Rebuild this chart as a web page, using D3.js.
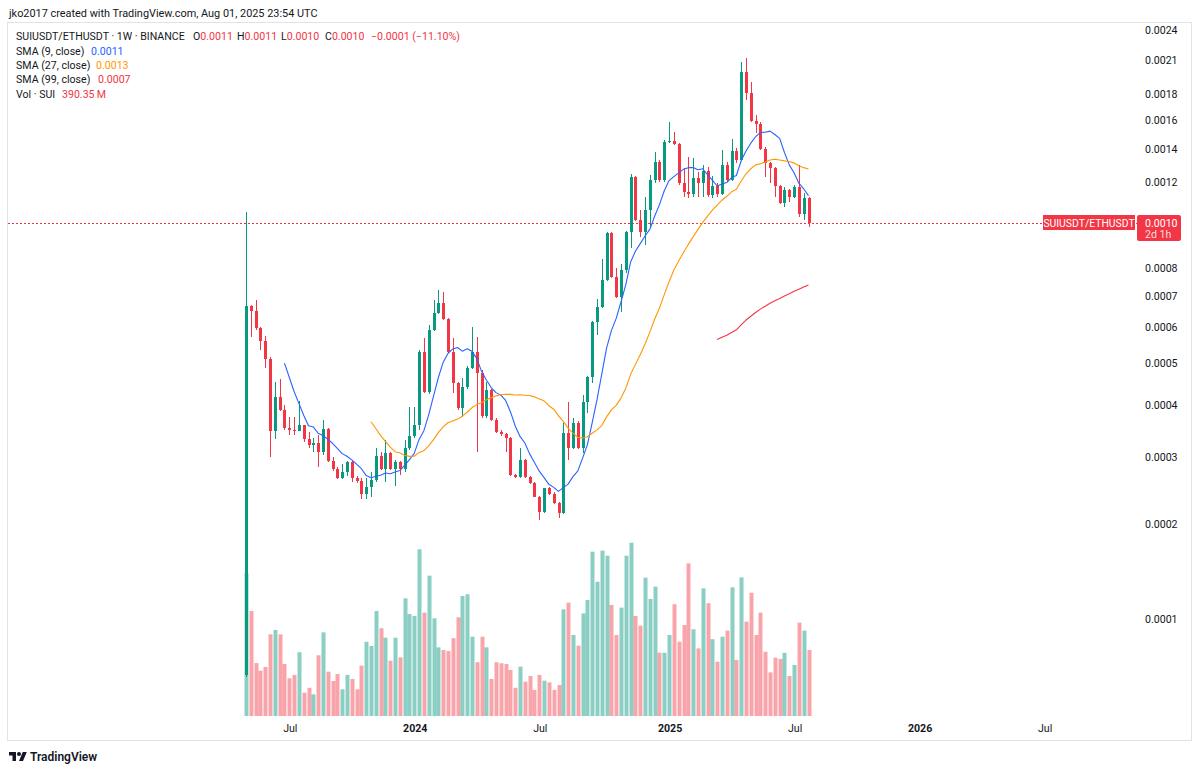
<!DOCTYPE html>
<html>
<head>
<meta charset="utf-8">
<script src="https://cdn.jsdelivr.net/npm/d3@7/dist/d3.min.js"></script>
<style>
html,body{margin:0;padding:0;background:#fff;}
svg{display:block;font-family:Roboto,"Liberation Sans",Arial,sans-serif;}
</style>
</head>
<body>
<svg id="chart" width="1200" height="770"></svg>
<script>
// ---------------- data (weekly SUIUSDT/ETHUSDT, Binance) ----------------
const firstWeek = "2023-05-01";
const opens = [0.573e-4, 6.65e-4, 6.49e-4, 5.97e-4, 5.59e-4, 5.10e-4, 3.48e-4, 4.19e-4, 3.90e-4, 3.54e-4,
3.50e-4, 3.48e-4, 3.60e-4, 3.33e-4, 3.22e-4, 3.26e-4, 3.09e-4, 3.52e-4, 2.93e-4, 2.81e-4,
2.66e-4, 2.76e-4, 2.92e-4, 2.66e-4, 2.61e-4, 2.42e-4, 2.52e-4, 2.63e-4, 3.02e-4, 2.81e-4,
3.08e-4, 2.81e-4, 2.92e-4, 2.81e-4, 3.17e-4, 3.39e-4, 3.60e-4, 5.29e-4, 4.30e-4, 5.91e-4,
6.43e-4, 6.75e-4, 6.24e-4, 5.29e-4, 4.50e-4, 3.94e-4, 4.41e-4, 4.87e-4, 5.29e-4, 4.75e-4,
3.77e-4, 4.34e-4, 3.69e-4, 3.46e-4, 3.43e-4, 3.35e-4, 2.71e-4, 2.68e-4, 2.95e-4, 2.68e-4,
2.59e-4, 2.38e-4, 2.16e-4, 2.50e-4, 2.42e-4, 2.29e-4, 2.15e-4, 3.44e-4, 3.17e-4, 3.63e-4,
3.17e-4, 4.08e-4, 4.64e-4, 6.15e-4, 6.62e-4, 7.56e-4, 9.47e-4, 7.67e-4, 6.96e-4, 7.94e-4,
9.51e-4, 12.32e-4, 10.07e-4, 9.51e-4, 10.56e-4, 12.15e-4, 13.20e-4, 12.15e-4, 14.47e-4, 14.54e-4,
14.34e-4, 11.98e-4, 11.48e-4, 11.38e-4, 12.26e-4, 11.98e-4, 12.65e-4, 11.33e-4, 11.82e-4, 11.38e-4,
13.02e-4, 12.15e-4, 13.90e-4, 13.32e-4, 19.88e-4, 18.09e-4, 15.93e-4, 15.71e-4, 14.02e-4, 13.14e-4,
12.83e-4, 11.82e-4, 10.91e-4, 11.59e-4, 11.22e-4, 11.76e-4, 10.36e-4, 11.17e-4];

const highs = [10.46e-4, 6.69e-4, 6.85e-4, 6.00e-4, 5.74e-4, 5.15e-4, 4.52e-4, 4.60e-4, 4.01e-4, 3.75e-4,
3.75e-4, 4.10e-4, 3.60e-4, 3.46e-4, 3.35e-4, 3.41e-4, 3.69e-4, 3.54e-4, 3.00e-4, 2.84e-4,
2.89e-4, 2.93e-4, 2.93e-4, 2.69e-4, 2.66e-4, 2.66e-4, 2.76e-4, 3.17e-4, 3.09e-4, 3.31e-4,
3.09e-4, 2.95e-4, 2.93e-4, 3.31e-4, 3.97e-4, 3.97e-4, 5.34e-4, 5.68e-4, 6.06e-4, 6.85e-4,
7.20e-4, 7.13e-4, 6.27e-4, 5.68e-4, 4.52e-4, 4.62e-4, 4.92e-4, 6.00e-4, 5.71e-4, 4.82e-4,
4.52e-4, 4.36e-4, 3.73e-4, 3.50e-4, 3.44e-4, 3.37e-4, 2.73e-4, 3.17e-4, 2.97e-4, 2.69e-4,
2.60e-4, 2.39e-4, 2.51e-4, 2.52e-4, 2.45e-4, 2.30e-4, 3.63e-4, 4.08e-4, 3.73e-4, 3.67e-4,
4.23e-4, 4.67e-4, 6.18e-4, 6.88e-4, 8.36e-4, 9.51e-4, 9.51e-4, 8.02e-4, 8.17e-4, 9.56e-4,
12.49e-4, 12.37e-4, 10.56e-4, 11.22e-4, 12.43e-4, 13.83e-4, 13.32e-4, 14.60e-4, 15.86e-4, 15.14e-4,
14.41e-4, 12.83e-4, 13.51e-4, 13.45e-4, 12.60e-4, 13.02e-4, 12.89e-4, 12.37e-4, 11.98e-4, 13.96e-4,
13.20e-4, 14.67e-4, 14.09e-4, 20.81e-4, 21.19e-4, 19.01e-4, 16.38e-4, 15.86e-4, 14.15e-4, 13.20e-4,
12.89e-4, 11.87e-4, 11.76e-4, 11.65e-4, 11.87e-4, 13.02e-4, 11.43e-4, 11.22e-4];

const lows = [0.56e-4, 5.71e-4, 5.91e-4, 5.34e-4, 4.87e-4, 3.00e-4, 3.33e-4, 3.88e-4, 3.50e-4, 3.41e-4,
3.41e-4, 3.48e-4, 3.27e-4, 3.17e-4, 3.09e-4, 2.84e-4, 3.04e-4, 2.92e-4, 2.77e-4, 2.65e-4,
2.65e-4, 2.69e-4, 2.60e-4, 2.59e-4, 2.35e-4, 2.35e-4, 2.38e-4, 2.60e-4, 2.79e-4, 2.60e-4,
2.79e-4, 2.54e-4, 2.71e-4, 2.76e-4, 3.13e-4, 3.35e-4, 3.50e-4, 4.27e-4, 4.25e-4, 5.88e-4,
6.40e-4, 6.21e-4, 5.26e-4, 4.27e-4, 3.90e-4, 3.75e-4, 4.36e-4, 4.85e-4, 3.09e-4, 3.73e-4,
3.73e-4, 3.67e-4, 3.44e-4, 3.39e-4, 3.09e-4, 2.69e-4, 2.66e-4, 2.66e-4, 2.66e-4, 2.57e-4,
2.37e-4, 2.06e-4, 2.15e-4, 2.41e-4, 2.27e-4, 2.09e-4, 2.14e-4, 2.95e-4, 3.15e-4, 3.15e-4,
3.08e-4, 3.84e-4, 4.50e-4, 5.76e-4, 6.59e-4, 7.52e-4, 7.64e-4, 6.92e-4, 6.46e-4, 7.83e-4,
8.82e-4, 10.02e-4, 9.29e-4, 8.95e-4, 9.69e-4, 11.98e-4, 12.04e-4, 12.04e-4, 14.41e-4, 14.30e-4,
11.87e-4, 11.22e-4, 11.17e-4, 11.22e-4, 11.22e-4, 11.22e-4, 11.22e-4, 11.17e-4, 11.22e-4, 11.33e-4,
12.04e-4, 12.09e-4, 13.14e-4, 13.26e-4, 17.52e-4, 15.86e-4, 15.08e-4, 13.96e-4, 12.32e-4, 11.98e-4,
11.22e-4, 10.86e-4, 10.71e-4, 10.96e-4, 11.17e-4, 10.22e-4, 10.07e-4, 9.74e-4];

const closes = [6.65e-4, 6.49e-4, 5.97e-4, 5.59e-4, 5.10e-4, 3.48e-4, 4.19e-4, 3.90e-4, 3.54e-4, 3.50e-4,
3.48e-4, 3.60e-4, 3.33e-4, 3.22e-4, 3.26e-4, 3.09e-4, 3.52e-4, 2.93e-4, 2.81e-4, 2.66e-4,
2.76e-4, 2.92e-4, 2.66e-4, 2.61e-4, 2.42e-4, 2.52e-4, 2.63e-4, 3.02e-4, 2.81e-4, 3.08e-4,
2.81e-4, 2.92e-4, 2.81e-4, 3.17e-4, 3.39e-4, 3.60e-4, 5.29e-4, 4.30e-4, 5.91e-4, 6.43e-4,
6.75e-4, 6.24e-4, 5.29e-4, 4.50e-4, 3.94e-4, 4.41e-4, 4.87e-4, 5.29e-4, 4.75e-4, 3.77e-4,
4.34e-4, 3.69e-4, 3.46e-4, 3.43e-4, 3.35e-4, 2.71e-4, 2.68e-4, 2.95e-4, 2.68e-4, 2.59e-4,
2.38e-4, 2.16e-4, 2.50e-4, 2.42e-4, 2.29e-4, 2.15e-4, 3.44e-4, 3.17e-4, 3.63e-4, 3.17e-4,
4.08e-4, 4.64e-4, 6.15e-4, 6.62e-4, 7.56e-4, 9.47e-4, 7.67e-4, 6.96e-4, 7.94e-4, 9.51e-4,
12.32e-4, 10.07e-4, 9.51e-4, 10.56e-4, 12.15e-4, 13.20e-4, 12.15e-4, 14.47e-4, 14.54e-4, 14.34e-4,
11.98e-4, 11.48e-4, 11.38e-4, 12.26e-4, 11.98e-4, 12.65e-4, 11.33e-4, 11.82e-4, 11.38e-4, 13.02e-4,
12.15e-4, 13.90e-4, 13.32e-4, 19.88e-4, 18.09e-4, 15.93e-4, 15.71e-4, 14.02e-4, 13.14e-4, 12.83e-4,
11.82e-4, 10.91e-4, 11.59e-4, 11.22e-4, 11.76e-4, 10.36e-4, 11.17e-4, 9.93e-4];

// volume in millions of SUI
const volumes = [846, 621, 313, 268, 290, 483, 509, 483, 308, 223,
243, 377, 138, 167, 128, 359, 495, 262, 207, 248,
158, 243, 219, 158, 298, 439, 414, 621, 519, 463,
327, 463, 347, 696, 603, 592, 986, 611, 830, 578,
406, 390, 384, 460, 584, 710, 720, 469, 318, 469,
406, 219, 318, 312, 308, 272, 167, 292, 203, 237,
154, 243, 209, 199, 154, 183, 631, 670, 479, 416,
607, 686, 972, 794, 978, 948, 657, 479, 641, 948,
1025, 592, 534, 818, 692, 765, 374, 374, 479, 661,
439, 538, 903, 513, 400, 755, 667, 454, 321, 469,
505, 761, 331, 820, 558, 729, 479, 611, 380, 258,
345, 337, 374, 237, 302, 552, 505, 390.35];

const priceTicks = [0.0024, 0.0021, 0.0018, 0.0016, 0.0014, 0.0012, 0.0008, 0.0007, 0.0006, 0.0005, 0.0004, 0.0003, 0.0002, 0.0001];
const timeTickDates = ["2023-07-03", "2024-01-01", "2024-07-01", "2025-01-06", "2025-07-07", "2026-01-05", "2026-07-06"];
const timeTickLabels = ["Jul", "2024", "Jul", "2025", "Jul", "2026", "Jul"];
const smaPeriods = [9, 27, 99];
const smaColors = ["#2962FF", "#FF9800", "#F23645"];

// ---------------- setup ----------------
const svg = d3.select("#chart");
const UP = "#089981", DOWN = "#F23645";
const VOL_UP = "rgba(8,153,129,0.47)", VOL_DOWN = "rgba(242,54,69,0.45)";
const TEXT = "#131722";
const LOG_OFFSET = 0.0001; // TradingView log-scale offset

const parse = d3.utcParse("%Y-%m-%d");
const start = parse(firstWeek);
const dates = d3.utcMonday.range(start, d3.utcDay.offset(start, 7 * closes.length)).slice(0, closes.length);

const x = d3.scaleUtc().domain([dates[0], dates[dates.length - 1]]).range([246, 808.5]);
const yLog = d3.scaleLog().domain([0.0002, 0.0025]).range([619, 30]);
const y = p => yLog(p + LOG_OFFSET);
const yVol = d3.scaleLinear().domain([0, d3.max(volumes)]).range([716, 542.7]);

const bars = dates.map((d, i) => ({d, i, o: opens[i], h: highs[i], l: lows[i], c: closes[i], v: volumes[i]}));
const isUp = b => b.c >= b.o;
const cx = b => Math.round(x(b.d));

svg.append("rect").attr("width", 1200).attr("height", 770).attr("fill", "#fff");

// attribution
svg.append("text").attr("x", 9).attr("y", 17).attr("font-size", 10.9).attr("fill", TEXT)
  .text("jko2017 created with TradingView.com, Aug 01, 2025 23:54 UTC");

// frame
svg.append("rect").attr("x", 7.5).attr("y", 22.5).attr("width", 1184).attr("height", 718)
  .attr("fill", "none").attr("stroke", "#e0e3eb").attr("stroke-width", 1);

// volume
svg.append("g").selectAll("rect").data(bars).join("rect")
  .attr("x", b => cx(b) - 1.5).attr("width", 4)
  .attr("y", b => yVol(b.v)).attr("height", b => yVol(0) - yVol(b.v))
  .attr("fill", b => isUp(b) ? VOL_UP : VOL_DOWN);

// last price dotted line
const lastBar = bars[bars.length - 1];
const yLast = Math.round(y(lastBar.c)) + 0.5;
svg.append("line").attr("x1", 8).attr("x2", 1137).attr("y1", yLast).attr("y2", yLast)
  .attr("stroke", DOWN).attr("stroke-width", 1).attr("stroke-dasharray", "2,2")
  .attr("shape-rendering", "crispEdges");

// candles
const gC = svg.append("g").attr("shape-rendering", "crispEdges");
gC.selectAll("rect.wick").data(bars).join("rect").attr("class", "wick")
  .attr("x", b => cx(b)).attr("width", 1)
  .attr("y", b => y(b.h)).attr("height", b => Math.max(1, y(b.l) - y(b.h)))
  .attr("fill", b => isUp(b) ? UP : DOWN);
gC.selectAll("rect.body").data(bars).join("rect").attr("class", "body")
  .attr("x", b => cx(b) - 1).attr("width", 3)
  .attr("y", b => y(Math.max(b.o, b.c))).attr("height", b => Math.max(1, Math.abs(y(b.o) - y(b.c))))
  .attr("fill", b => isUp(b) ? UP : DOWN);

// SMAs
const smaSeries = smaPeriods.map(p => closes.map((c, i) => i < p - 1 ? null : d3.mean(closes.slice(i - p + 1, i + 1))));
const line = d3.line().defined(d => d.v != null).x(d => x(d.d)).y(d => y(d.v)).curve(d3.curveLinear);
smaSeries.forEach((s, k) => {
  svg.append("path").datum(s.map((v, i) => ({d: dates[i], v})))
    .attr("d", line).attr("fill", "none").attr("stroke", smaColors[k]).attr("stroke-width", 1.1)
    .attr("stroke-linejoin", "round");
});

// price axis
const fmt4 = d3.format(".4f");
const yAxis = d3.axisRight(yLog)
  .tickValues(priceTicks.map(p => p + LOG_OFFSET))
  .tickFormat(d => fmt4(d - LOG_OFFSET))
  .tickSize(0).tickPadding(0);
const gy = svg.append("g").attr("transform", "translate(1145,0)").call(yAxis);
gy.select(".domain").remove();
gy.selectAll("text").attr("font-size", 10.6).attr("fill", TEXT).attr("font-family", "Roboto, 'Liberation Sans', Arial, sans-serif");

// time axis
const xAxis = d3.axisBottom(x)
  .tickValues(timeTickDates.map(parse))
  .tickFormat((d, i) => timeTickLabels[i])
  .tickSize(0).tickPadding(7);
const gx = svg.append("g").attr("transform", "translate(0.5,717)").call(xAxis);
gx.select(".domain").remove();
gx.selectAll("text").attr("font-size", 10.6).attr("fill", TEXT)
  .attr("font-family", "Roboto, 'Liberation Sans', Arial, sans-serif")
  .attr("font-weight", (d, i) => /^\d{4}$/.test(timeTickLabels[i]) ? 700 : 400);

// last price labels
const lastStr = fmt4(lastBar.c);
svg.append("rect").attr("x", 1043).attr("y", yLast - 8.5).attr("width", 92).attr("height", 15).attr("fill", DOWN);
svg.append("text").attr("x", 1089).attr("y", yLast + 3.5).attr("text-anchor", "middle")
  .attr("font-size", 10.4).attr("fill", "#fff").text("SUIUSDT/ETHUSDT");
svg.append("rect").attr("x", 1137).attr("y", yLast - 8.5).attr("width", 44).attr("height", 26).attr("rx", 2).attr("fill", DOWN);
svg.append("text").attr("x", 1145).attr("y", yLast + 3.8).attr("font-size", 10.6).attr("fill", "#fff").text(lastStr);
svg.append("text").attr("x", 1145).attr("y", yLast + 14.8).attr("font-size", 10.6).attr("fill", "rgba(255,255,255,0.85)").text("2d 1h");

// legend
const prevClose = closes[closes.length - 2];
const chg = lastBar.c - prevClose;
const pct = chg / prevClose * 100;
const lg = svg.append("g").attr("font-size", 10.6).attr("fill", TEXT);
const l1 = lg.append("text").attr("y", 40);
l1.append("tspan").attr("x", 16).text("SUIUSDT/ETHUSDT \u00b7 1W \u00b7 BINANCE");
const ohlc = [["O", lastBar.o, 193], ["H", lastBar.h, 237], ["L", lastBar.l, 281], ["C", lastBar.c, 325]];
ohlc.forEach(([k, v, px]) => {
  l1.append("tspan").attr("x", px).text(k);
  l1.append("tspan").attr("fill", DOWN).text(fmt4(v));
});
l1.append("tspan").attr("x", 371).attr("fill", DOWN)
  .text((chg < 0 ? "\u2212" : "+") + fmt4(Math.abs(chg)) + " (" + (pct < 0 ? "\u2212" : "+") + Math.abs(pct).toFixed(2) + "%)");

const smaLabels = ["SMA (9, close)", "SMA (27, close)", "SMA (99, close)"];
const smaValX = [91, 96, 98];
smaLabels.forEach((t, k) => {
  const tt = lg.append("text").attr("y", 54.5 + 14.3 * k);
  tt.append("tspan").attr("x", 16).text(t);
  const s = smaSeries[k];
  tt.append("tspan").attr("x", smaValX[k]).attr("fill", smaColors[k]).text(fmt4(s[s.length - 1]));
});
const vt = lg.append("text").attr("y", 97.5);
vt.append("tspan").attr("x", 16).text("Vol \u00b7 SUI");
vt.append("tspan").attr("x", 62).attr("fill", isUp(lastBar) ? UP : DOWN).text(d3.format(".2f")(lastBar.v) + "\u2009M");

// TradingView logo
const logo = svg.append("g").attr("transform", "translate(9,750) scale(0.5)").attr("fill", TEXT);
logo.append("path").attr("d", "M14 22H7V11H0V4h14v18zM28 22h-8l7.5-18h8L28 22z");
logo.append("circle").attr("cx", 20).attr("cy", 8).attr("r", 4);
svg.append("text").attr("x", 30).attr("y", 761).attr("font-size", 12).attr("font-weight", 600)
  .attr("fill", TEXT).text("TradingView");
</script>
</body>
</html>
